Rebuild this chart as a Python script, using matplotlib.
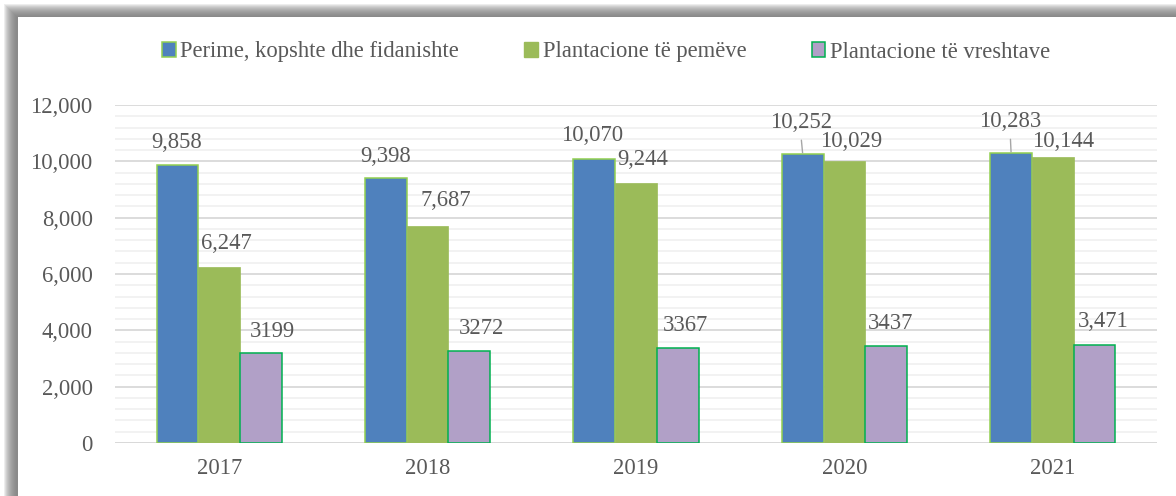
import numpy as np
import matplotlib
matplotlib.use('Agg')
import matplotlib.pyplot as plt
from matplotlib.patches import Patch, Rectangle

# ---------------- data ----------------
years = ['2017', '2018', '2019', '2020', '2021']
perime = [9858, 9398, 10070, 10252, 10283]
pemeve = [6247, 7687, 9244, 10029, 10144]
vreshtave = [3199, 3272, 3367, 3437, 3471]

perime_labels = ['9,858', '9,398', '10,070', '10,252', '10,283']
pemeve_labels = ['6,247', '7,687', '9,244', '10,029', '10,144']
vreshtave_labels = ['3199', '3272', '3367', '3437', '3,471']

series_names = ['Perime, kopshte dhe fidanishte', 'Plantacione të pemëve',
                'Plantacione të vreshtave']

# label offsets (pixels, text centre relative to bar top) as placed in the original
perime_off = [(-1, 24), (0, 23), (-2, 25), (-2, 33), (-1, 33)]
pemeve_off = [(7, 25), (18, 27), (7, 25), (7, 21), (10, 17)]
vreshtave_off = [(11, 23), (12, 24), (8, 24), (4, 24), (9, 25)]
leader = [False, False, False, True, True]

TXT = '#595959'
plt.rcParams['font.family'] = ['Liberation Serif', 'DejaVu Serif']
FS = 16.3

fig = plt.figure(figsize=(11.76, 4.96), dpi=100)
W, H = 1176, 496

# shadowed frame
for i in range(13):
    x0 = 4 + i
    y0 = 4 + i
    fig.patches.append(Rectangle((x0 / W, 0), 1, 1 - y0 / H, transform=fig.transFigure,
                                 facecolor='#777777', alpha=0.13, edgecolor='none', zorder=0))
fig.patches.append(Rectangle((18 / W, 0), 1, 1 - 17 / H, transform=fig.transFigure,
                             facecolor='white', edgecolor='none', zorder=1))

ax = fig.add_axes([115 / W, 53 / H, (1157 - 115) / W, (443 - 105) / H])
ax.set_facecolor('none')
ax.set_zorder(2)

x = np.arange(len(years))
w = 0.2
b1 = ax.bar(x - w, perime, w, color='#4F81BD', edgecolor='#92D050', linewidth=1.1, zorder=3)
b2 = ax.bar(x, pemeve, w, color='#9BBB59', edgecolor='#9BBB59', linewidth=0.5, zorder=3)
b3 = ax.bar(x + w, vreshtave, w, color='#B1A0C7', edgecolor='#00B050', linewidth=1.1, zorder=3)

ax.set_xlim(-0.5, len(years) - 0.5)
ax.set_ylim(0, 12000)
ax.set_yticks(np.arange(0, 12001, 2000))
ax.set_yticks(np.arange(0, 12001, 400), minor=True)
ax.set_yticklabels([f'{v:,}' for v in range(0, 12001, 2000)])
ax.set_xticks(x)
ax.set_xticklabels(years)
ax.grid(axis='y', which='major', color='#d9d9d9', linewidth=1.3, zorder=0)
ax.grid(axis='y', which='minor', color='#efefef', linewidth=1.1, zorder=0)
for s in ax.spines.values():
    s.set_visible(False)
ax.axhline(0, color='#d9d9d9', linewidth=1.3, zorder=2)
ax.tick_params(which='both', length=0, colors=TXT, labelsize=FS)
ax.tick_params(axis='y', pad=16)
ax.tick_params(axis='x', pad=11)


def label(xpos, val, txt, off, lead=False):
    dx, dy = off
    kw = {}
    if lead:
        kw['arrowprops'] = dict(arrowstyle='-', color='#a6a6a6', lw=1.0,
                                shrinkA=3, shrinkB=1, relpos=(0.5, 0.0))
    ax.annotate(txt, (xpos, val), xytext=(dx, dy - 7), textcoords='offset pixels',
                ha='center', va='baseline', fontsize=FS, color=TXT, zorder=5, **kw)


for i in range(len(years)):
    label(x[i] - w, perime[i], perime_labels[i], perime_off[i], leader[i])
    label(x[i], pemeve[i], pemeve_labels[i], pemeve_off[i])
    label(x[i] + w, vreshtave[i], vreshtave_labels[i], vreshtave_off[i])

handles = [Patch(facecolor='#4F81BD', edgecolor='#92D050', linewidth=1.1),
           Patch(facecolor='#9BBB59', edgecolor='#9BBB59'),
           Patch(facecolor='#B1A0C7', edgecolor='#00B050', linewidth=1.1)]
fig.legend(handles, series_names, loc='center', bbox_to_anchor=(606 / W, 1 - 52 / H),
           ncol=3, frameon=False, fontsize=FS, labelcolor=TXT,
           handlelength=0.6, handleheight=0.6, handletextpad=0.2, columnspacing=2.9)

fig.savefig('out.png', dpi=100)
